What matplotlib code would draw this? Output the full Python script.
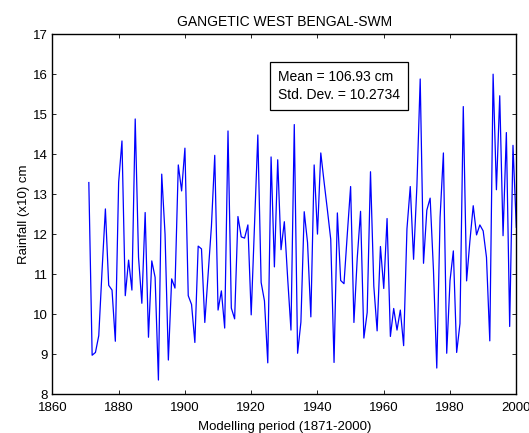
import numpy as np
import matplotlib
matplotlib.use("Agg")
from matplotlib import pyplot as plt

plt.rcParams['font.family'] = ['Liberation Sans', 'DejaVu Sans']

# Seasonal (SW monsoon) rainfall, units of 10 cm
years = np.arange(1871, 2001)
rain = [13.29, 8.97, 9.04, 9.46, 11.1, 12.63, 10.72, 10.6, 9.32, 13.3,
        14.33, 10.46, 11.35, 10.6, 14.88, 11.42, 10.27, 12.54, 9.42, 11.33,
        10.92, 8.35, 13.5, 12.0, 8.85, 10.88, 10.65, 13.73, 13.08, 14.15,
        10.46, 10.24, 9.29, 11.7, 11.63, 9.79, 11.0, 12.2, 13.97, 10.1,
        10.58, 9.65, 14.58, 10.15, 9.88, 12.44, 11.93, 11.9, 12.23, 9.98,
        12.2, 14.48, 10.79, 10.33, 8.78, 13.93, 11.18, 13.86, 11.61, 12.31,
        10.9, 9.6, 14.74, 9.02, 9.8, 12.56, 11.79, 9.93, 13.73, 12.0,
        14.03, 13.3, 12.6, 11.87, 8.79, 12.53, 10.84, 10.76, 12.0, 13.19,
        9.79, 11.4, 12.57, 9.4, 10.04, 13.56, 10.7, 9.58, 11.69, 10.64,
        12.39, 9.44, 10.14, 9.6, 10.1, 9.21, 12.13, 13.19, 11.37, 13.2,
        15.88, 11.27, 12.6, 12.9, 11.1, 8.65, 12.42, 14.03, 9.02, 10.84,
        11.58, 9.04, 9.76, 15.19, 10.83, 11.83, 12.71, 11.98, 12.23, 12.08,
        11.42, 9.33, 16.0, 13.11, 15.46, 11.96, 14.54, 9.69, 14.22, 12.17]

xticks = np.arange(1860, 2001, 20)
yticks = np.arange(8, 18, 1)

fig = plt.figure(figsize=(5.29, 4.33), dpi=100)
ax = fig.add_axes([0.099, 0.09, 0.877, 0.831])

ax.plot(years, rain, color=(0, 0, 1), lw=0.9)

ax.set_xlim(1860, 2000)
ax.set_ylim(8, 17)
ax.set_xticks(xticks)
ax.set_yticks(yticks)
ax.tick_params(direction='in', length=3, width=0.6, labelsize=9.5,
               top=True, right=True)
ax.tick_params(axis='x', pad=6)
for s in ax.spines.values():
    s.set_linewidth(1.0)

ax.set_title("GANGETIC WEST BENGAL-SWM", fontsize=10, pad=6)
ax.set_xlabel("Modelling period (1871-2000)", fontsize=9.5, labelpad=5)
ax.set_ylabel("Rainfall (x10) cm", fontsize=9.5, labelpad=2)

ax.text(0.486, 0.856, "Mean = 106.93 cm\nStd. Dev. = 10.2734",
        transform=ax.transAxes, fontsize=10, va='center', ha='left',
        linespacing=1.3,
        bbox=dict(boxstyle='square,pad=0.6', fc='white', ec='black', lw=0.9))

fig.savefig("out.png", dpi=100)
